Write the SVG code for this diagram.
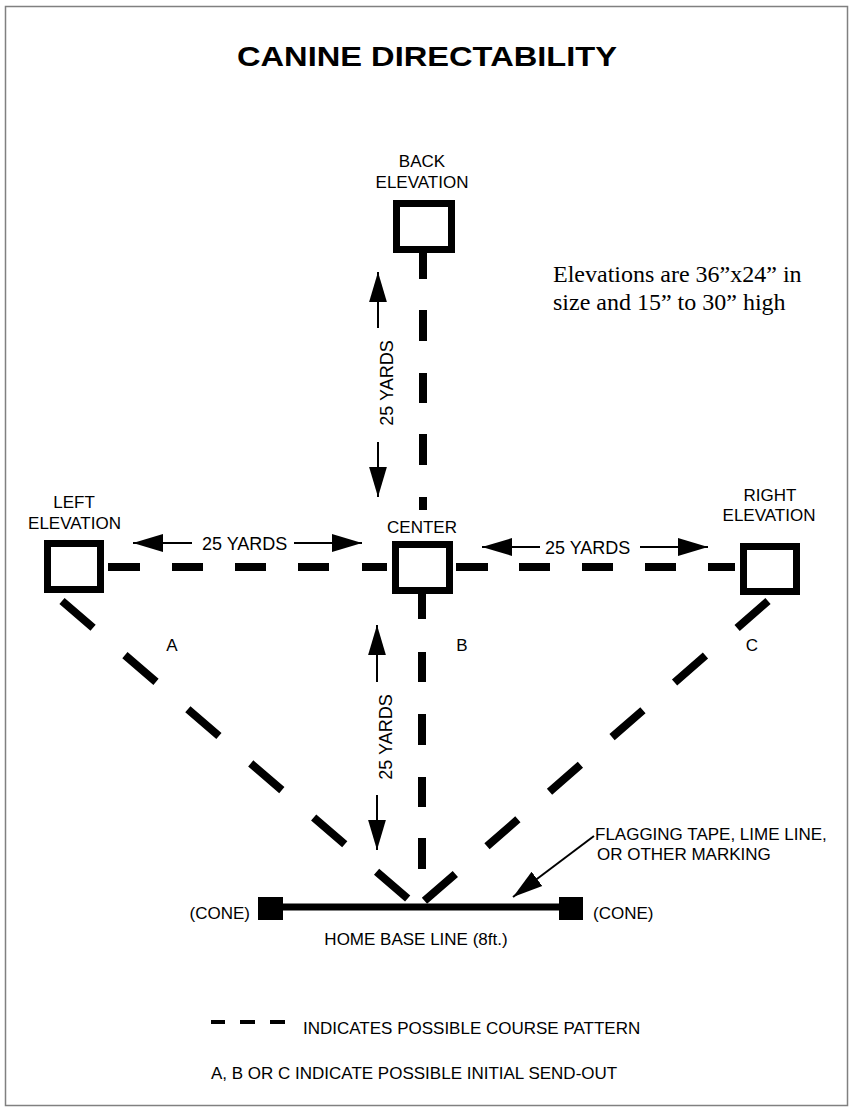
<svg xmlns="http://www.w3.org/2000/svg" width="849" height="1108" viewBox="0 0 849 1108">
<style>
.lbl{font-family:"Liberation Sans",Arial,sans-serif;font-size:17px;fill:#000}
.yd{font-family:"Liberation Sans",Arial,sans-serif;font-size:18px;fill:#000}
.box{fill:#fff;stroke:#000;stroke-width:7}
.dash{stroke:#000;stroke-width:8;fill:none}
.arr{stroke:#000;stroke-width:2;fill:none;marker-end:url(#ah)}
</style>
<defs>
<marker id="ah" markerUnits="userSpaceOnUse" markerWidth="30" markerHeight="20" viewBox="0 0 27 16" refX="27" refY="8" orient="auto">
<path d="M0,0 L27,8 L0,16 Z" fill="#000"/>
</marker>
</defs>
<rect x="0" y="0" width="849" height="1108" fill="#fff"/>
<rect x="5.5" y="6.5" width="842" height="1099" fill="none" stroke="#808080" stroke-width="1.5"/>
<text x="427" y="66" text-anchor="middle" font-family="'Liberation Sans',Arial,sans-serif" font-weight="bold" font-size="28" textLength="380" lengthAdjust="spacingAndGlyphs">CANINE DIRECTABILITY</text>

<g id="connectors">
<!-- vertical top -->
<line class="dash" x1="423" y1="253" x2="423" y2="279"/>
<line class="dash" x1="423" y1="310" x2="423" y2="341"/>
<line class="dash" x1="423" y1="373" x2="423" y2="403"/>
<line class="dash" x1="423" y1="434" x2="423" y2="465"/>
<line class="dash" x1="423" y1="497" x2="423" y2="510"/>
<!-- vertical bottom -->
<line class="dash" x1="422" y1="594" x2="422" y2="619"/>
<line class="dash" x1="422" y1="652" x2="422" y2="682"/>
<line class="dash" x1="422" y1="714" x2="422" y2="745"/>
<line class="dash" x1="422" y1="777" x2="422" y2="807"/>
<line class="dash" x1="422" y1="838" x2="422" y2="869"/>
<!-- horizontal left -->
<line class="dash" x1="108" y1="567" x2="140" y2="567"/>
<line class="dash" x1="172" y1="567" x2="203" y2="567"/>
<line class="dash" x1="235" y1="567" x2="266" y2="567"/>
<line class="dash" x1="298" y1="567" x2="329" y2="567"/>
<line class="dash" x1="362" y1="567" x2="387" y2="567"/>
<!-- horizontal right -->
<line class="dash" x1="456" y1="567" x2="488" y2="567"/>
<line class="dash" x1="519" y1="567" x2="550" y2="567"/>
<line class="dash" x1="582" y1="567" x2="613" y2="567"/>
<line class="dash" x1="645" y1="567" x2="676" y2="567"/>
<line class="dash" x1="708" y1="567" x2="735" y2="567"/>
<!-- diagonals -->
<line class="dash" x1="62" y1="601" x2="413" y2="903" stroke-dasharray="41 42"/>
<line class="dash" x1="768" y1="601" x2="422" y2="903" stroke-dasharray="41 42"/>
<!-- measurement arrows -->
<line class="arr" x1="378" y1="328" x2="378" y2="272"/>
<line class="arr" x1="378" y1="442" x2="378" y2="497"/>
<line class="arr" x1="377" y1="682" x2="377" y2="625"/>
<line class="arr" x1="377" y1="795" x2="377" y2="850"/>
<line class="arr" x1="192" y1="543" x2="133" y2="543"/>
<line class="arr" x1="294" y1="543" x2="362" y2="543"/>
<line class="arr" x1="540" y1="547" x2="482" y2="547"/>
<line class="arr" x1="640" y1="547" x2="708" y2="547"/>
<line class="arr" x1="594" y1="836" x2="513" y2="897"/>
</g>

<g id="back">
<rect class="box" x="396.5" y="203.5" width="55" height="46"/>
<text class="lbl" x="422" y="167" text-anchor="middle">BACK</text>
<text class="lbl" x="422" y="188" text-anchor="middle">ELEVATION</text>
</g>
<g id="center">
<rect class="box" x="395.5" y="544.5" width="54" height="46"/>
<text class="lbl" x="422" y="533" text-anchor="middle">CENTER</text>
</g>
<g id="left">
<rect class="box" x="47.5" y="543.5" width="53" height="46"/>
<text class="lbl" x="74" y="508" text-anchor="middle">LEFT</text>
<text class="lbl" x="74.5" y="529" text-anchor="middle">ELEVATION</text>
</g>
<g id="right">
<rect class="box" x="743.5" y="546.5" width="53" height="45"/>
<text class="lbl" x="770" y="501" text-anchor="middle">RIGHT</text>
<text class="lbl" x="769" y="521" text-anchor="middle">ELEVATION</text>
</g>
<g id="homebase">
<line x1="282" y1="907" x2="560" y2="907" stroke="#000" stroke-width="7"/>
<rect x="258" y="897" width="25" height="23" fill="#000"/>
<rect x="559" y="897" width="24" height="23" fill="#000"/>
<text class="lbl" x="250" y="919" text-anchor="end">(CONE)</text>
<text class="lbl" x="593" y="919">(CONE)</text>
<text class="lbl" x="416" y="945" text-anchor="middle">HOME BASE LINE (8ft.)</text>
</g>
<g id="labels">
<text class="yd" x="202" y="550">25 YARDS</text>
<text class="yd" x="545" y="554">25 YARDS</text>
<text class="yd" transform="translate(393,383) rotate(-90)" text-anchor="middle">25 YARDS</text>
<text class="yd" transform="translate(392,737) rotate(-90)" text-anchor="middle">25 YARDS</text>
<text class="lbl" x="172" y="651" text-anchor="middle">A</text>
<text class="lbl" x="462" y="651" text-anchor="middle">B</text>
<text class="lbl" x="752" y="651" text-anchor="middle">C</text>
<text class="lbl" x="595" y="840">FLAGGING TAPE, LIME LINE,</text>
<text class="lbl" x="597" y="860">OR OTHER MARKING</text>
<text x="553" y="282" font-family="'Liberation Serif','Times New Roman',serif" font-size="24">Elevations are 36”x24” in</text>
<text x="553" y="310" font-family="'Liberation Serif','Times New Roman',serif" font-size="24">size and 15” to 30” high</text>
</g>
<g id="legend">
<line x1="211" y1="1022" x2="225" y2="1022" stroke="#000" stroke-width="4"/>
<line x1="240" y1="1022" x2="255" y2="1022" stroke="#000" stroke-width="4"/>
<line x1="270" y1="1022" x2="285" y2="1022" stroke="#000" stroke-width="4"/>
<text class="lbl" x="303" y="1034">INDICATES POSSIBLE COURSE PATTERN</text>
<text class="lbl" x="211" y="1079">A, B OR C INDICATE POSSIBLE INITIAL SEND-OUT</text>
</g>
</svg>
